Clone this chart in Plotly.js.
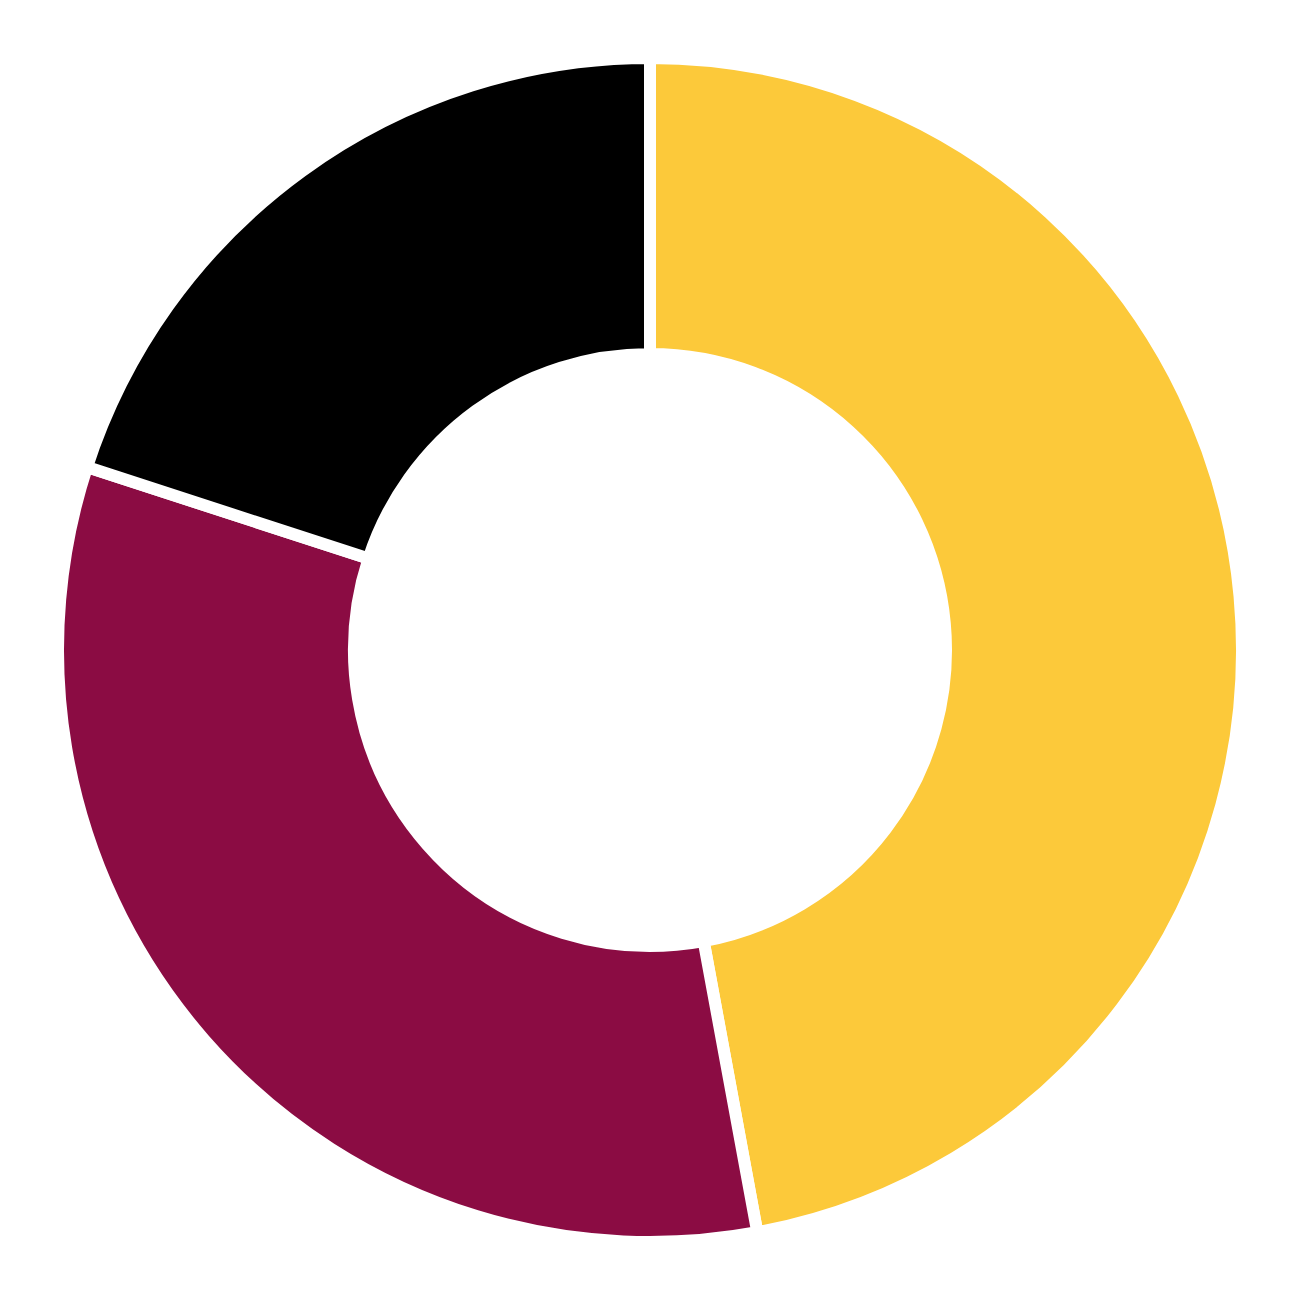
<!DOCTYPE html>
<html>
<head>
<meta charset="utf-8">
<script src="https://cdn.plot.ly/plotly-3.0.1.min.js"></script>
<style>
  html, body { margin: 0; padding: 0; background: #fff; }
  #chart { width: 1300px; height: 1300px; }
</style>
</head>
<body>
<div id="chart"></div>
<script>
  // slice data, clockwise from 12 o'clock
  const labels = ['A', 'B', 'C'];
  const values = [47.1, 32.9, 20.0];
  const colors = ['#FCC93A', '#8B0C43', '#000000'];

  const trace = {
    type: 'pie',
    labels: labels,
    values: values,
    hole: 0.5,
    sort: false,
    direction: 'clockwise',
    rotation: 0,
    textinfo: 'none',
    hoverinfo: 'label+percent',
    marker: {colors: colors, line: {color: '#ffffff', width: 12}}
  };

  const layout = {
    width: 1300,
    height: 1300,
    margin: {l: 58, r: 58, t: 58, b: 58},
    showlegend: false,
    paper_bgcolor: '#ffffff',
    plot_bgcolor: '#ffffff'
  };

  Plotly.newPlot('chart', [trace], layout, {displayModeBar: false});
</script>
</body>
</html>
